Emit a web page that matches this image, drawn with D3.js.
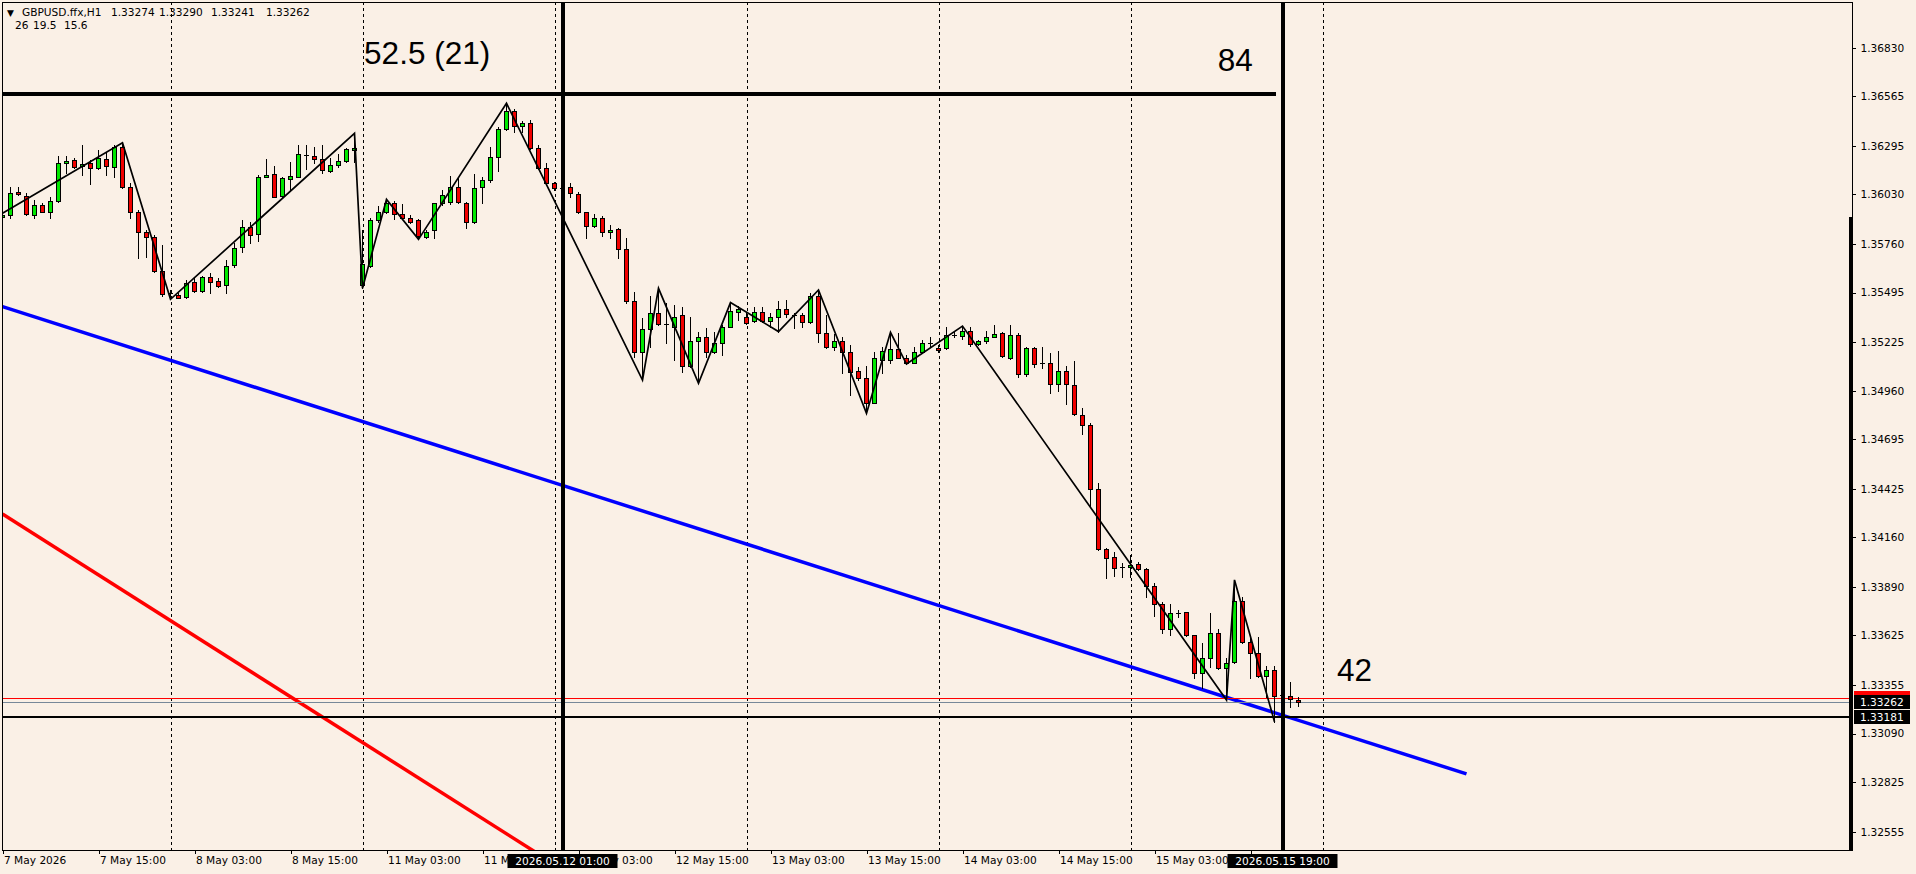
<!DOCTYPE html>
<html><head><meta charset="utf-8">
<script src="https://cdn.jsdelivr.net/npm/d3@7"></script>
<style>
html,body{margin:0;padding:0;background:#FAF0E6;overflow:hidden}
svg{display:block}
text{font-family:"DejaVu Sans",Verdana,sans-serif}
</style></head><body>
<svg id="chart" width="1916" height="874"></svg>
<script>
// ---- DATA (GBPUSD H1, bar index 0 = 7 May 2026 03:00) ----
const open = [1.35909,1.35918,1.36041,1.36023,1.35916,1.35971,1.35936,1.35996,1.36201,1.36218,
1.36185,1.36200,1.36172,1.36225,1.36178,1.36290,1.36069,1.35932,1.35823,1.35796,
1.35614,1.35485,1.35482,1.35469,1.35551,1.35502,1.35578,1.35556,1.35534,1.35643,
1.35742,1.35852,1.35812,1.36127,1.36140,1.36023,1.36116,1.36127,1.36243,1.36241,
1.36225,1.36160,1.36189,1.36212,1.36274,1.35536,1.35640,1.35889,1.35932,1.35981,
1.35921,1.35900,1.35891,1.35800,1.35836,1.35985,1.35991,1.36069,1.35981,1.35878,
1.36069,1.36109,1.36232,1.36385,1.36487,1.36405,1.36418,1.36281,1.36172,1.36090,
1.36058,1.36069,1.36031,1.35932,1.35860,1.35900,1.35823,1.35840,1.35731,1.35449,
1.35173,1.35294,1.35382,1.35322,1.35309,1.35371,1.35094,1.35233,1.35254,1.35173,
1.35222,1.35309,1.35391,1.35363,1.35340,1.35391,1.35342,1.35360,1.35403,1.35373,
1.35371,1.35333,1.35478,1.35273,1.35200,1.35233,1.35173,1.35067,1.35027,1.34894,
1.35127,1.35127,1.35185,1.35140,1.35113,1.35173,1.35216,1.35191,1.35191,1.35265,
1.35258,1.35287,1.35214,1.35229,1.35254,1.35273,1.35136,1.35265,1.35049,1.35191,
1.35109,1.35109,1.34996,1.35067,1.34989,1.34825,1.34771,1.34422,1.34095,1.34051,
1.33997,1.34000,1.34013,1.33986,1.33897,1.33795,1.33658,1.33746,1.33751,1.33626,
1.33419,1.33500,1.33637,1.33446,1.33479,1.33815,1.33588,1.33528,1.33404,1.33437,
1.33297,1.33297,1.33274];
const high = [1.35981,1.36072,1.36072,1.36036,1.36000,1.35981,1.36018,1.36240,1.36240,1.36230,
1.36300,1.36218,1.36272,1.36263,1.36300,1.36312,1.36090,1.35945,1.35836,1.35809,
1.35754,1.35509,1.35491,1.35563,1.35582,1.35585,1.35600,1.35572,1.35672,1.35763,
1.35891,1.35881,1.36136,1.36221,1.36185,1.36123,1.36209,1.36298,1.36298,1.36287,
1.36300,1.36227,1.36250,1.36281,1.36363,1.35836,1.35900,1.35967,1.36003,1.35996,
1.35976,1.35918,1.35894,1.35836,1.35985,1.36054,1.36132,1.36118,1.35991,1.36140,
1.36127,1.36290,1.36396,1.36527,1.36494,1.36432,1.36436,1.36300,1.36199,1.36100,
1.36076,1.36090,1.36045,1.35936,1.35921,1.35912,1.35861,1.35845,1.35791,1.35500,
1.35354,1.35476,1.35518,1.35436,1.35427,1.35418,1.35363,1.35282,1.35300,1.35278,
1.35318,1.35440,1.35422,1.35382,1.35418,1.35418,1.35382,1.35449,1.35454,1.35382,
1.35382,1.35491,1.35509,1.35373,1.35269,1.35254,1.35209,1.35091,1.35094,1.35173,
1.35200,1.35278,1.35273,1.35154,1.35200,1.35236,1.35254,1.35209,1.35309,1.35282,
1.35312,1.35305,1.35236,1.35287,1.35318,1.35282,1.35318,1.35273,1.35200,1.35200,
1.35200,1.35163,1.35176,1.35094,1.35122,1.34864,1.34782,1.34455,1.34100,1.34078,
1.34018,1.34064,1.34027,1.33991,1.33909,1.33809,1.33797,1.33764,1.33755,1.33628,
1.33586,1.33749,1.33658,1.33500,1.33928,1.33837,1.33628,1.33618,1.33459,1.33459,
1.33318,1.33373,1.33290];
const low = [1.35900,1.35900,1.36027,1.35918,1.35903,1.35932,1.35903,1.35991,1.36145,1.36172,
1.36136,1.36085,1.36167,1.36136,1.36127,1.36063,1.35900,1.35682,1.35691,1.35609,
1.35476,1.35458,1.35463,1.35463,1.35498,1.35498,1.35491,1.35527,1.35491,1.35636,
1.35718,1.35767,1.35778,1.36123,1.36014,1.36018,1.36054,1.36123,1.36167,1.36200,
1.36149,1.36154,1.36178,1.36207,1.36209,1.35518,1.35636,1.35881,1.35927,1.35894,
1.35894,1.35876,1.35785,1.35794,1.35794,1.35972,1.35976,1.35981,1.35849,1.35872,
1.35985,1.36100,1.36160,1.36381,1.36372,1.36372,1.36276,1.36167,1.36085,1.36054,
1.36050,1.36018,1.35927,1.35791,1.35854,1.35805,1.35791,1.35682,1.35440,1.35145,
1.35018,1.35200,1.35318,1.35218,1.35127,1.35064,1.35087,1.35000,1.35145,1.35164,
1.35154,1.35305,1.35345,1.35322,1.35336,1.35336,1.35309,1.35282,1.35363,1.35300,
1.35309,1.35327,1.35227,1.35191,1.35182,1.35058,1.34936,1.35018,1.34836,1.34891,
1.35054,1.35113,1.35136,1.35105,1.35109,1.35164,1.35200,1.35173,1.35185,1.35251,
1.35240,1.35204,1.35209,1.35218,1.35251,1.35142,1.35131,1.35036,1.35040,1.35087,
1.35082,1.34949,1.34960,1.34885,1.34827,1.34722,1.34327,1.34091,1.33940,1.33949,
1.33946,1.33946,1.33982,1.33837,1.33731,1.33637,1.33628,1.33728,1.33622,1.33395,
1.33337,1.33455,1.33442,1.33273,1.33473,1.33582,1.33395,1.33400,1.33291,1.33155,
1.33280,1.33237,1.33241];
const close = [1.35918,1.36040,1.36031,1.35921,1.35971,1.35936,1.35992,1.36200,1.36212,1.36181,
1.36194,1.36172,1.36227,1.36185,1.36290,1.36072,1.35936,1.35823,1.35796,1.35614,
1.35485,1.35491,1.35463,1.35545,1.35502,1.35578,1.35551,1.35533,1.35642,1.35736,
1.35852,1.35807,1.36127,1.36138,1.36018,1.36118,1.36129,1.36249,1.36247,1.36225,
1.36163,1.36189,1.36212,1.36276,1.36285,1.35649,1.35891,1.35932,1.35981,1.35921,
1.35903,1.35881,1.35803,1.35827,1.35981,1.36027,1.36069,1.35987,1.35881,1.36063,
1.36109,1.36232,1.36385,1.36487,1.36403,1.36418,1.36281,1.36172,1.36090,1.36063,
1.36065,1.36036,1.35932,1.35860,1.35900,1.35823,1.35834,1.35731,1.35449,1.35173,
1.35294,1.35382,1.35322,1.35318,1.35363,1.35094,1.35233,1.35254,1.35173,1.35222,
1.35309,1.35394,1.35403,1.35327,1.35391,1.35342,1.35360,1.35403,1.35376,1.35367,
1.35333,1.35478,1.35273,1.35200,1.35233,1.35169,1.35064,1.35027,1.34894,1.35136,
1.35178,1.35185,1.35140,1.35113,1.35173,1.35218,1.35222,1.35182,1.35264,1.35258,
1.35287,1.35214,1.35229,1.35254,1.35271,1.35149,1.35262,1.35049,1.35191,1.35104,
1.35104,1.34996,1.35067,1.34996,1.34831,1.34771,1.34422,1.34095,1.34046,1.33991,
1.33993,1.34011,1.33986,1.33897,1.33795,1.33658,1.33746,1.33749,1.33626,1.33419,
1.33500,1.33637,1.33449,1.33473,1.33815,1.33588,1.33528,1.33404,1.33437,1.33297,
1.33300,1.33277,1.33262];

// zigzag swing points
const zigzagIdx   = [0, 15, 21, 44, 45, 48, 52, 63, 80, 82, 87, 91, 97, 102, 108, 111, 113, 120, 153, 154, 159];
const zigzagPrice = [1.35927,1.36312,1.35458,1.36363,1.35518,1.36003,1.35785,1.36527,1.35018,1.35518,1.35000,1.35440,1.35282,1.35509,1.34836,1.35278,1.35105,1.35312,1.33273,1.33928,1.33155];

// trend lines
const blueLineIdx = [0, 183],   blueLinePrice = [1.35418, 1.32870];
const redLineIdx  = [0, 70],    redLinePrice  = [1.34287, 1.32350];
const topLevelIdx = [-1, 159.2], topLevelPrice = 1.36575;
const vLineIdx = [70, 160];
const vLineLabels = ["2026.05.12 01:00", "2026.05.15 19:00"];
const edgeLinePrice = 1.35906;

// horizontal price lines
const supportPrice = 1.33181;
const bidPrice = 1.33262;
const askPrice = 1.33285;

// annotations
const noteText  = ["52.5 (21)", "84", "42"];
const noteIdx   = [45.2, 151.9, 166.8];
const notePrice = [1.36739, 1.36705, 1.33378];

// axes
const yTickValues = [1.36830,1.36565,1.36295,1.36030,1.35760,1.35495,1.35225,1.34960,1.34695,1.34425,1.34160,1.33890,1.33625,1.33355,1.33090,1.32825,1.32555];
const xTickIdx = [0,12,24,36,48,60,72,84,96,108,120,132,144,156];
const xTickLabels = ["7 May 2026","7 May 15:00","8 May 03:00","8 May 15:00","11 May 03:00","11 May 15:00","12 May 03:00","12 May 15:00","13 May 03:00","13 May 15:00","14 May 03:00","14 May 15:00","15 May 03:00","15 May 15:00"];
const gridIdx = [21,45,69,93,117,141,165];

const headerParts = [["▼",7],["GBPUSD.ffx,H1",22],["1.33274",111],["1.33290",159],["1.33241",211],["1.33262",266]];
const header2Parts = [["26",15],["19.5",33],["15.6",64]];

// ---- LAYOUT ----
const L = 2, T = 2, R = 1852, B = 850;
const bg = "#FAF0E6";
const bull = "#00E800", bear = "#F00000";

const x = d3.scaleLinear().domain([0, 1]).range([2.5, 10.5]);
const y = d3.scaleLinear().domain([1.36830, 1.32555]).range([47.7, 831.7]);

const svg = d3.select("#chart");
svg.append("rect").attr("width",1916).attr("height",874).attr("fill",bg);

svg.append("clipPath").attr("id","plotclip").append("rect")
  .attr("x",L).attr("y",T).attr("width",R-L).attr("height",B-T);
const plot = svg.append("g").attr("clip-path","url(#plotclip)");

// grid
plot.append("g").selectAll("line").data(gridIdx).join("line")
  .attr("x1",d=>Math.round(x(d))+0.5).attr("x2",d=>Math.round(x(d))+0.5)
  .attr("y1",T).attr("y2",B)
  .attr("stroke","#000").attr("stroke-width",1).attr("stroke-dasharray","3,3")
  .attr("shape-rendering","crispEdges");

// red & blue trend lines
const line2 = (idx, pr) => d3.line()([[x(idx[0]), y(pr[0])],[x(idx[1]), y(pr[1])]]);
plot.append("path").attr("d", line2(redLineIdx, redLinePrice))
  .attr("stroke","#FF0000").attr("stroke-width",3.5).attr("fill","none");
plot.append("path").attr("d", line2(blueLineIdx, blueLinePrice))
  .attr("stroke","#0000FF").attr("stroke-width",3.5).attr("fill","none");

// price lines
const hl = (p, color, w) => plot.append("line")
  .attr("x1",L).attr("x2",R).attr("y1",Math.round(y(p))+(w%2?0.5:0)).attr("y2",Math.round(y(p))+(w%2?0.5:0))
  .attr("stroke",color).attr("stroke-width",w).attr("shape-rendering","crispEdges");
hl(askPrice, "#FF0000", 1);
hl(bidPrice, "#778899", 1);
hl(supportPrice, "#000", 2);

// candles
const n = open.length;
const idx = d3.range(n);
const cg = plot.append("g").attr("shape-rendering","crispEdges");
cg.selectAll("line.wick").data(idx).join("line").attr("class","wick")
  .attr("x1",i=>x(i)).attr("x2",i=>x(i))
  .attr("y1",i=>Math.round(y(high[i]))).attr("y2",i=>Math.round(y(low[i]))+1)
  .attr("stroke","#000").attr("stroke-width",1);
idx.forEach(i=>{
  const yo = Math.round(y(open[i])), yc = Math.round(y(close[i]));
  const top = Math.min(yo,yc), h = Math.abs(yo-yc);
  if (h < 2) {
    cg.append("line").attr("x1",x(i)-2.5).attr("x2",x(i)+2.5)
      .attr("y1",top+0.5).attr("y2",top+0.5).attr("stroke","#000").attr("stroke-width",1);
  } else {
    cg.append("rect").attr("x",x(i)-2).attr("y",top+0.5).attr("width",4).attr("height",h)
      .attr("fill", close[i]>=open[i]?bull:bear).attr("stroke","#000").attr("stroke-width",1);
  }
});

// zigzag
plot.append("path")
  .attr("d", d3.line()(zigzagIdx.map((d,i)=>[x(d), y(zigzagPrice[i])])))
  .attr("fill","none").attr("stroke","#000").attr("stroke-width",1.7).attr("stroke-linejoin","miter");

// thick horizontal level
plot.append("line").attr("x1",x(topLevelIdx[0])).attr("x2",x(topLevelIdx[1]))
  .attr("y1",Math.round(y(topLevelPrice))).attr("y2",Math.round(y(topLevelPrice)))
  .attr("stroke","#000").attr("stroke-width",4).attr("shape-rendering","crispEdges");

// thick vertical lines
plot.append("g").selectAll("line").data(vLineIdx).join("line")
  .attr("x1",d=>x(d)).attr("x2",d=>x(d)).attr("y1",T).attr("y2",B)
  .attr("stroke","#000").attr("stroke-width",4).attr("shape-rendering","crispEdges");

// thick right-edge segment
plot.append("line").attr("x1",R-1).attr("x2",R-1).attr("y1",Math.round(y(edgeLinePrice))).attr("y2",B)
  .attr("stroke","#000").attr("stroke-width",4).attr("shape-rendering","crispEdges");

// annotations
plot.append("g").selectAll("text").data(noteText).join("text")
  .attr("x",(d,i)=>x(noteIdx[i])).attr("y",(d,i)=>y(notePrice[i]))
  .style("font-family","'Liberation Sans',Arial,sans-serif").attr("font-size",31.5).attr("fill","#000")
  .text(d=>d);

// frame
svg.append("rect").attr("x",L+0.5).attr("y",T+0.5).attr("width",R-L).attr("height",B-T)
  .attr("fill","none").attr("stroke","#000").attr("stroke-width",1).attr("shape-rendering","crispEdges");

// y axis
const yAxis = d3.axisRight(y).tickValues(yTickValues).tickFormat(d3.format(".5f")).tickSize(3).tickPadding(5);
const gy = svg.append("g").attr("transform",`translate(${R+0.5},0)`).call(yAxis);
gy.select(".domain").remove();
gy.selectAll("line").attr("stroke","#000").attr("shape-rendering","crispEdges");
gy.selectAll("text").attr("font-size",10.6).attr("fill","#000").style("font-family","'DejaVu Sans',sans-serif");

// price tags
const tag = (p, bgc, label) => {
  const g = svg.append("g");
  const yy = Math.round(y(p));
  g.append("rect").attr("x",R+2).attr("y",yy-7).attr("width",56).attr("height",14).attr("fill",bgc);
  if (label) g.append("text").attr("x",R+8).attr("y",yy).attr("dy","0.36em")
    .attr("font-size",10.6).attr("fill","#fff").text(label);
};
tag(askPrice, "#FF0000", null);
tag(bidPrice, "#000", d3.format(".5f")(bidPrice));
tag(supportPrice, "#000", d3.format(".5f")(supportPrice));

// x axis
const xAxis = d3.axisBottom(x).tickValues(xTickIdx).tickFormat((d,i)=>xTickLabels[i]).tickSize(3).tickPadding(3);
const gx = svg.append("g").attr("transform",`translate(0,${B+0.5})`).call(xAxis);
gx.select(".domain").remove();
gx.selectAll("line").attr("stroke","#000").attr("shape-rendering","crispEdges");
gx.selectAll("text").attr("text-anchor","start").attr("dx",1).attr("font-size",10.6).attr("fill","#000")
  .style("font-family","'DejaVu Sans',sans-serif");

// time tags for vertical lines
vLineIdx.forEach((d,i)=>{
  const cx = x(d);
  svg.append("rect").attr("x",cx-55).attr("y",854).attr("width",110).attr("height",14).attr("fill","#000");
  svg.append("text").attr("x",cx).attr("y",865).attr("text-anchor","middle")
    .attr("font-size",10.6).attr("fill","#fff").text(vLineLabels[i]);
});

// header
svg.append("g").selectAll("text").data(headerParts).join("text")
  .attr("x",d=>d[1]).attr("y",16).attr("font-size",d=>d[0]==="▼"?9:10.6).attr("fill","#000").text(d=>d[0]);
svg.append("g").selectAll("text").data(header2Parts).join("text")
  .attr("x",d=>d[1]).attr("y",29).attr("font-size",10.6).attr("fill","#000").text(d=>d[0]);
</script>
</body></html>
